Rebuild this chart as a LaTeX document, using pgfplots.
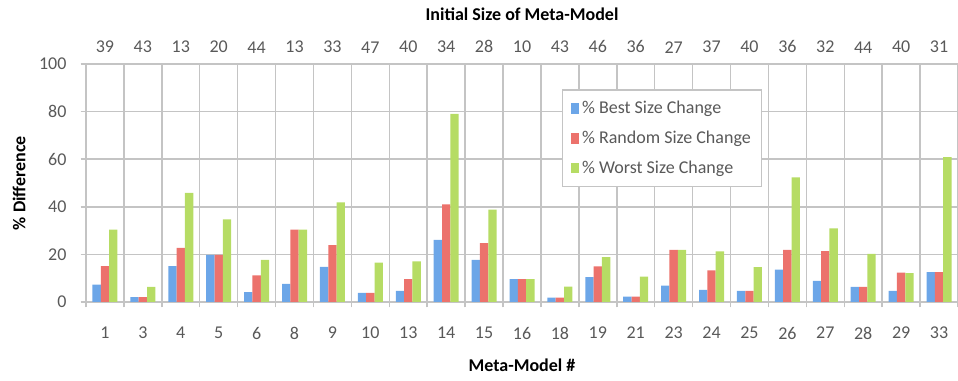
\documentclass[border=0pt]{standalone}
\usepackage{pgfplots}
\pgfplotsset{compat=1.18}
\usepackage{fontspec}
\setmainfont{Carlito}
\definecolor{bblue}{RGB}{108,166,232}
\definecolor{rred}{RGB}{236,114,108}
\definecolor{ggreen}{RGB}{182,220,100}
\definecolor{gridg}{RGB}{196,196,196}
\definecolor{txtg}{RGB}{89,89,89}
\begin{document}
\fontsize{13.5}{16}\selectfont
\begin{tikzpicture}
\begin{axis}[
  at={(0pt,0pt)}, anchor=south west,
  scale only axis, width=654pt, height=178.5pt,
  xmin=-0.5, xmax=22.5, ymin=0, ymax=100,
  ybar=0pt, bar width=6.25pt,
  axis lines*=left,
  axis line style={draw=gridg, line width=1.1pt, -},
  xtick={0,...,22},
  xticklabels={1,3,4,5,6,8,9,10,13,14,15,16,18,19,21,23,24,25,26,27,28,29,33},
  minor xtick={-0.5,0.5,...,22.5},
  ytick={0,20,...,100},
  xmajorgrids=false, xminorgrids=true, ymajorgrids=true,
  grid style={draw=gridg, line width=1.1pt},
  minor grid style={draw=gridg, line width=1.1pt},
  tick align=outside,
  major x tick style={draw=none},
  minor x tick style={draw=gridg, line width=1.1pt},
  major y tick style={draw=gridg, line width=1.1pt},
  major tick length=4pt, minor tick length=4pt,
  /pgf/number format/assume math mode=true,
  tick label style={font=\fontsize{13.5}{16}\selectfont, text=txtg},
  xticklabel style={yshift=-10pt},
  yticklabel style={xshift=-6pt},
  xlabel={\textbf{Meta-Model \#}},
  xlabel style={font=\fontsize{13.5}{16}\selectfont, yshift=-5.5pt},
  ylabel={\textbf{\% Difference}},
  ylabel style={font=\fontsize{13.5}{16}\selectfont, yshift=1pt},
  legend style={at={(0.546,0.893)}, anchor=north west, draw=gridg, line width=1pt,
    fill=white, font=\fontsize{13.5}{16}\selectfont, text=txtg,
    inner xsep=6pt, inner ysep=6pt, row sep=7pt, cells={anchor=west}},
  legend image code/.code={\fill[#1, draw=none] (0pt,-4pt) rectangle (6.5pt,4pt);},
  legend cell align=left,
]
\addplot[fill=bblue, draw=none] coordinates {
(0,7.3) (1,2) (2,15.1) (3,19.8) (4,4.2) (5,7.6) (6,14.8) (7,3.8) (8,4.7) (9,26.1) (10,17.7) (11,9.6) (12,1.8) (13,10.5) (14,2.3) (15,6.9) (16,5.1) (17,4.7) (18,13.6) (19,8.9) (20,6.4) (21,4.7) (22,12.6)};
\addplot[fill=rred, draw=none] coordinates {
(0,15.1) (1,2) (2,22.7) (3,19.8) (4,11.2) (5,30.4) (6,23.9) (7,3.8) (8,9.6) (9,41) (10,24.7) (11,9.6) (12,1.8) (13,15) (14,2.3) (15,21.9) (16,13.3) (17,4.7) (18,21.9) (19,21.4) (20,6.4) (21,12.3) (22,12.6)};
\addplot[fill=ggreen, draw=none] coordinates {
(0,30.4) (1,6.4) (2,45.8) (3,34.7) (4,17.7) (5,30.4) (6,41.9) (7,16.5) (8,17.1) (9,79) (10,38.8) (11,9.6) (12,6.5) (13,18.9) (14,10.7) (15,21.9) (16,21.3) (17,14.7) (18,52.4) (19,30.9) (20,20.2) (21,12.1) (22,60.9)};
\legend{\% Best Size Change, \% Random Size Change, \% Worst Size Change}
\end{axis}
\begin{axis}[
  at={(0pt,0pt)}, anchor=south west,
  scale only axis, width=654pt, height=178.5pt,
  xmin=-0.5, xmax=22.5, ymin=0, ymax=100,
  axis x line*=top, hide y axis,
  axis line style={draw=none},
  xtick={0,...,22},
  xticklabels={39,43,13,20,44,13,33,47,40,34,28,10,43,46,36,27,37,40,36,32,44,40,31},
  major tick length=0pt,
  /pgf/number format/assume math mode=true,
  tick label style={font=\fontsize{13.5}{16}\selectfont, text=txtg},
  xticklabel style={yshift=3.5pt},
  xlabel={\textbf{Initial Size of Meta-Model}},
  xlabel style={font=\fontsize{13.5}{16}\selectfont, yshift=6pt},
]
\end{axis}
\pgfresetboundingbox
\path[use as bounding box] (-64.5pt,-59.25pt) rectangle (654pt,226.5pt);
\end{tikzpicture}
\end{document}
